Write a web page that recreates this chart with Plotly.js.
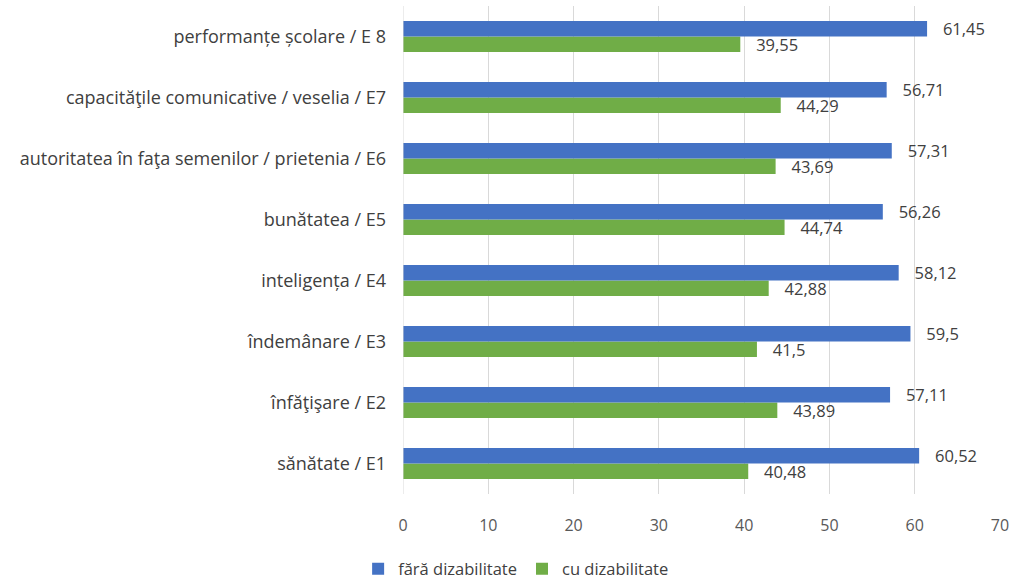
<!DOCTYPE html>
<html>
<head>
<meta charset="utf-8">
<script src="https://cdn.plot.ly/plotly-3.0.1.min.js"></script>
<style>html,body{margin:0;padding:0;background:#fff;}#chart{width:1016px;height:583px;}</style>
</head>
<body>
<div id="chart"></div>
<script>
const categories = [
  "sănătate / E1",
  "înfăţişare / E2",
  "îndemânare / E3",
  "inteligența / E4",
  "bunătatea / E5",
  "autoritatea în faţa semenilor / prietenia / E6",
  "capacităţile comunicative / veselia / E7",
  "performanțe școlare / E 8"
];
const faraDizabilitate = [60.52, 57.11, 59.5, 58.12, 56.26, 57.31, 56.71, 61.45];
const cuDizabilitate   = [40.48, 43.89, 41.5, 42.88, 44.74, 43.69, 44.29, 39.55];
const seriesNames = ["fără dizabilitate", "cu dizabilitate"];
const xTicks = [0, 10, 20, 30, 40, 50, 60, 70];

const pad = '\u00a0\u00a0\u00a0';
const fmt = v => pad + String(v).replace('.', ',');
const FONT = "Open Sans, Noto Sans, sans-serif";

const traces = [
  {
    type: 'bar', orientation: 'h', name: seriesNames[1],
    y: categories, x: cuDizabilitate,
    marker: {color: '#70ad47'},
    text: cuDizabilitate.map(fmt), textposition: 'outside', constraintext: 'none',
    textfont: {color: '#404040', size: 16.5, family: FONT},
    cliponaxis: false, hoverinfo: 'x+y'
  },
  {
    type: 'bar', orientation: 'h', name: seriesNames[0],
    y: categories, x: faraDizabilitate,
    marker: {color: '#4472c4'},
    text: faraDizabilitate.map(fmt), textposition: 'outside', constraintext: 'none',
    textfont: {color: '#404040', size: 16.5, family: FONT},
    cliponaxis: false, hoverinfo: 'x+y'
  }
];

const layout = {
  width: 1016, height: 583,
  margin: {l: 403, r: 16, t: 6, b: 89, autoexpand: false},
  paper_bgcolor: '#ffffff', plot_bgcolor: '#ffffff',
  barmode: 'group', bargap: 0.49, bargroupgap: 0,
  font: {family: FONT, color: '#404040'},
  xaxis: {
    range: [0, 70], tickvals: xTicks, ticktext: xTicks.map(String),
    showgrid: true, gridcolor: '#d9d9d9', gridwidth: 1,
    zeroline: false, showline: false, ticks: '',
    ticklabelstandoff: 20, automargin: false,
    tickfont: {size: 16, color: '#595959', family: FONT},
    fixedrange: true
  },
  yaxis: {
    type: 'category', categoryorder: 'array', categoryarray: categories,
    showgrid: false, zeroline: false,
    showline: false, ticks: '',
    ticklabelstandoff: 16, automargin: false,
    tickfont: {size: 18, color: '#404040', family: FONT},
    fixedrange: true
  },
  shapes: [{type: 'line', xref: 'x', yref: 'paper', x0: 0, x1: 0, y0: 0, y1: 1,
            line: {color: '#d9d9d9', width: 1}}],
  legend: {
    orientation: 'h', xref: 'container', x: 0.508, xanchor: 'center',
    yref: 'container', y: 0.024, yanchor: 'middle',
    traceorder: 'reversed',
    font: {size: 16.5, color: '#404040', family: FONT},
    itemwidth: 30
  },
  showlegend: true
};

Plotly.newPlot('chart', traces, layout, {displayModeBar: false, staticPlot: true});
</script>
</body>
</html>
